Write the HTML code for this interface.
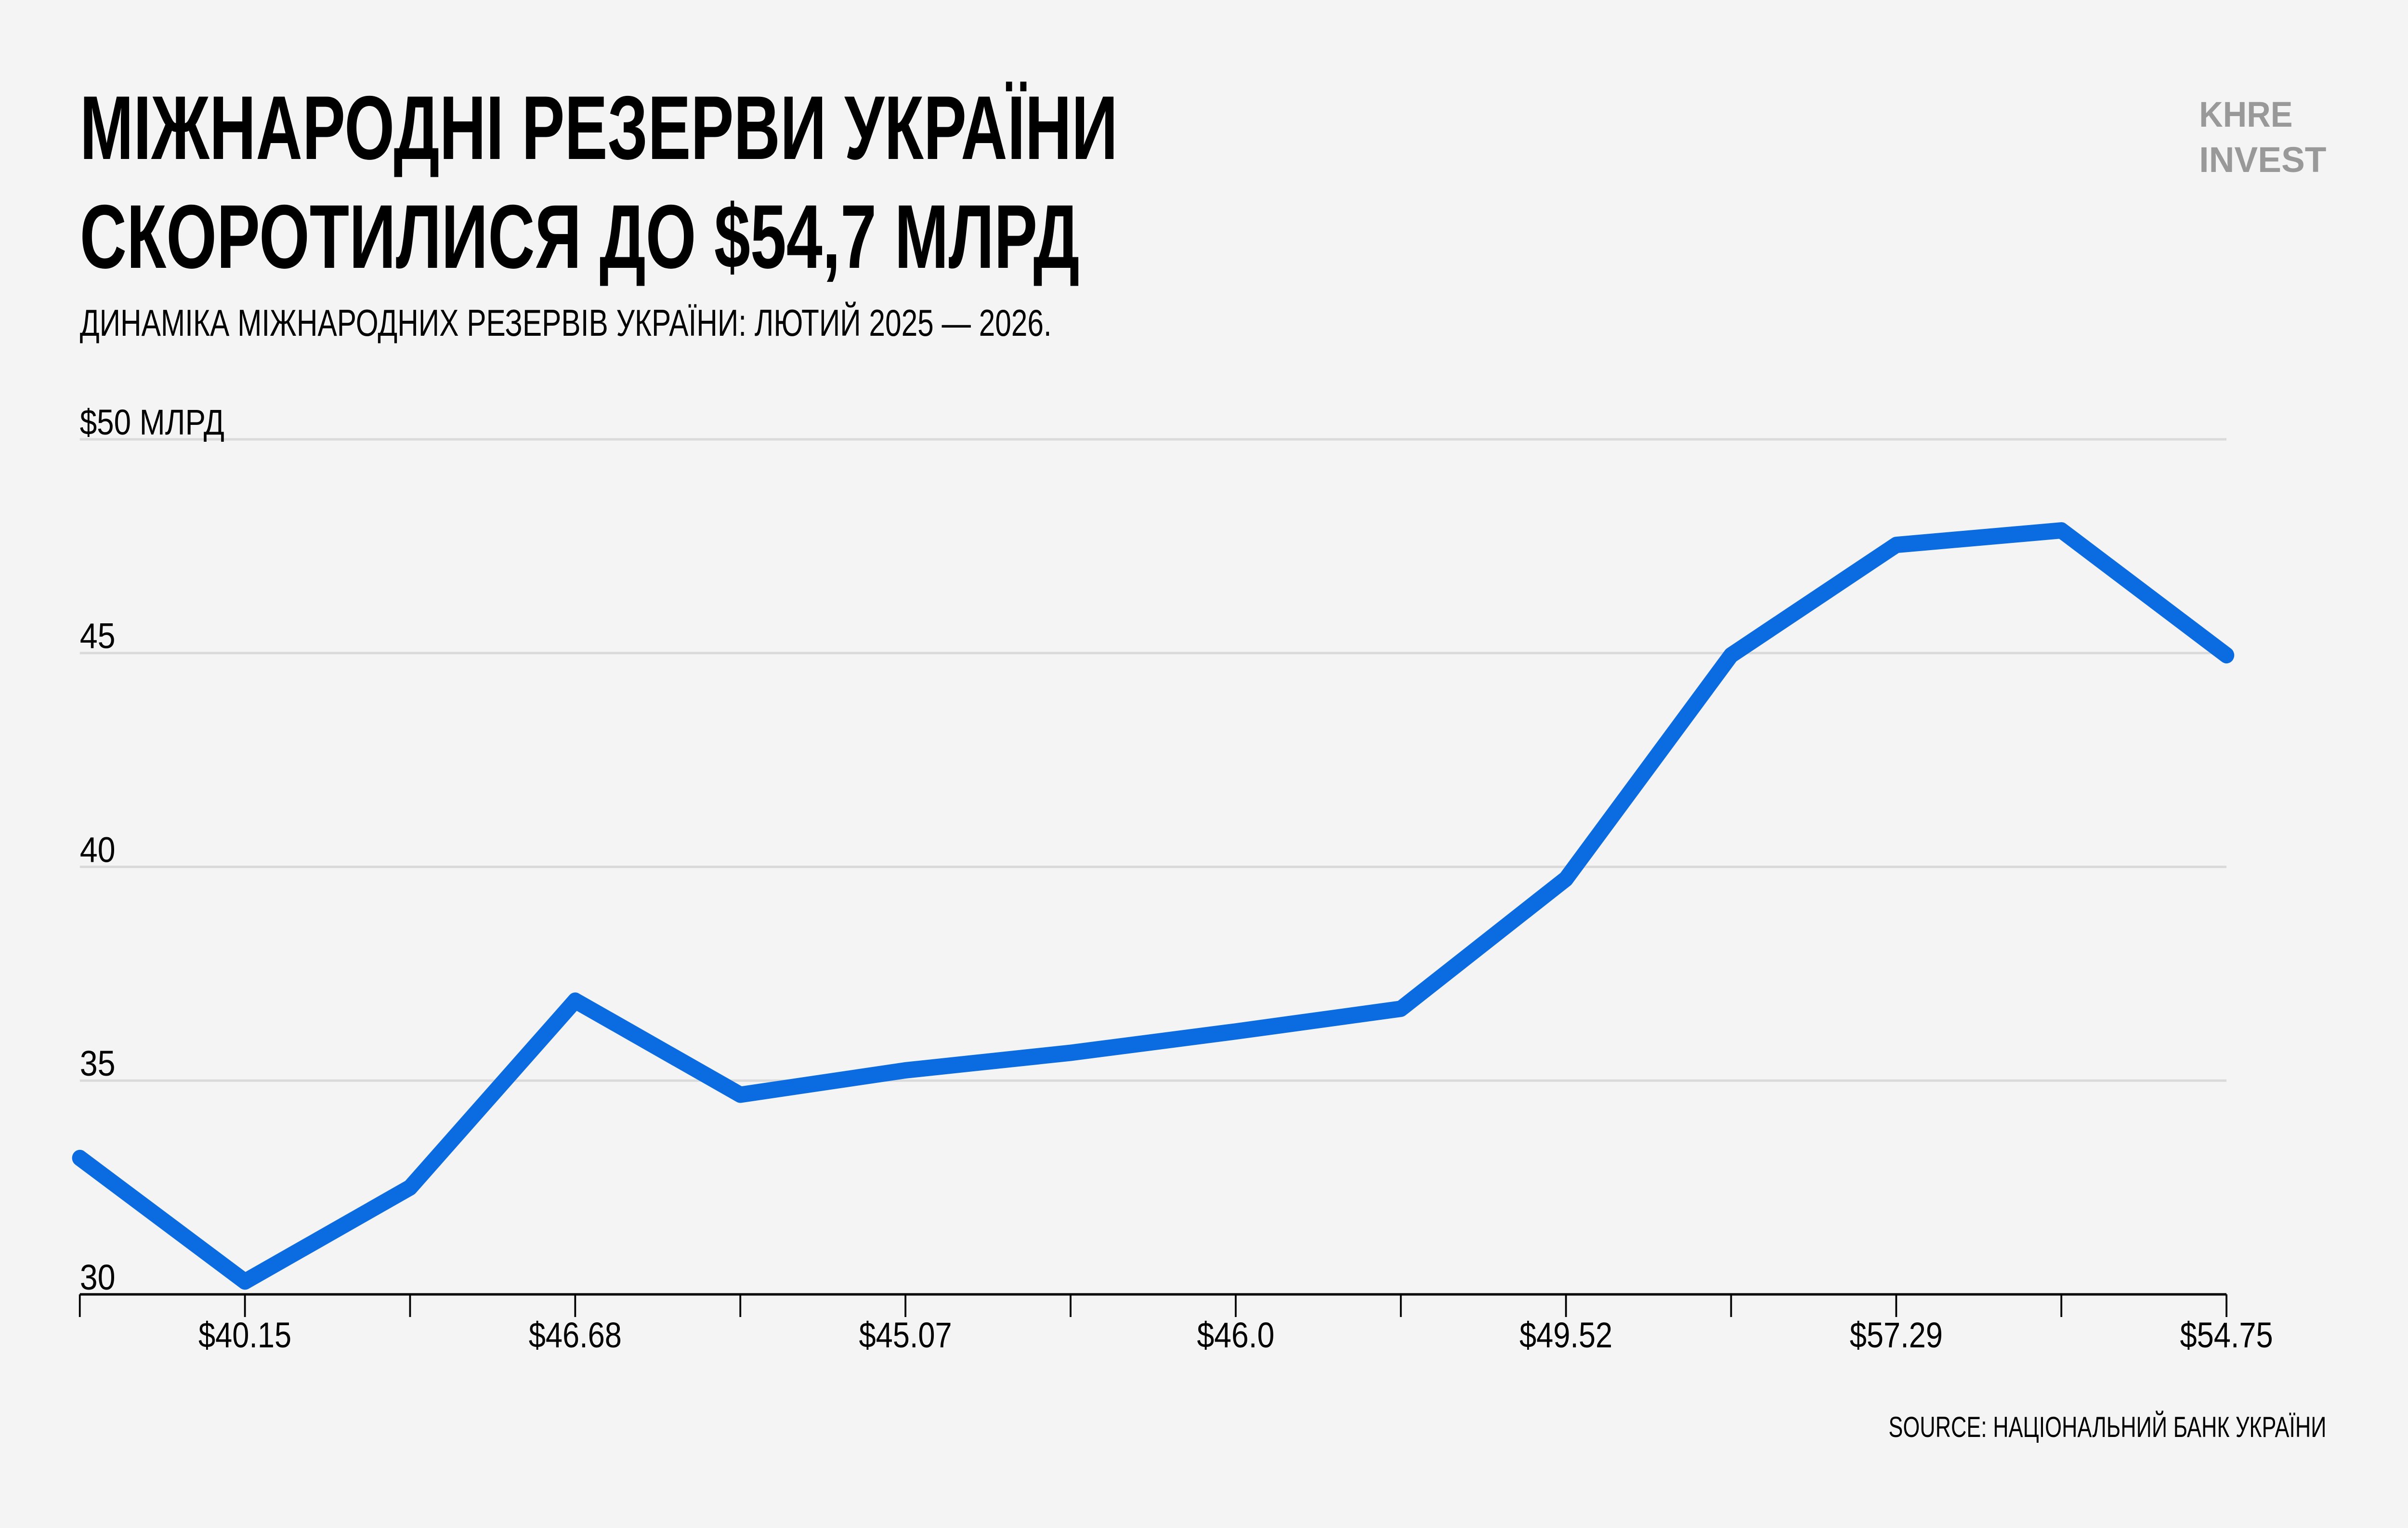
<!DOCTYPE html>
<html><head><meta charset="utf-8"><style>
html,body{margin:0;padding:0;background:#f4f4f4;overflow:hidden;width:100%;height:100%}
svg{display:block;position:absolute;left:0;top:0;width:100vw;height:100vh}
text{font-family:"Liberation Sans","Noto Sans CJK SC",sans-serif}
</style></head><body>
<svg id="chart" viewBox="0 0 5280 3172" preserveAspectRatio="none" xmlns="http://www.w3.org/2000/svg">
<rect width="5280" height="3172" fill="#f4f4f4"/>
<text x="175" y="330" font-size="188" font-weight="bold" textLength="2276" lengthAdjust="spacingAndGlyphs" fill="#000">МІЖНАРОДНІ РЕЗЕРВИ УКРАЇНИ</text>
<text x="175" y="556" font-size="188" font-weight="bold" textLength="2192" lengthAdjust="spacingAndGlyphs" fill="#000">СКОРОТИЛИСЯ ДО $54,7 МЛРД</text>
<text x="175" y="697" font-size="78" textLength="2131" lengthAdjust="spacingAndGlyphs" fill="#000">ДИНАМІКА МІЖНАРОДНИХ РЕЗЕРВІВ УКРАЇНИ: ЛЮТИЙ 2025 — 2026.</text>
<text x="4822" y="263" font-size="74" font-weight="bold" textLength="205" lengthAdjust="spacingAndGlyphs" fill="#999">KHRE</text>
<text x="4822" y="357" font-size="74" font-weight="bold" textLength="279" lengthAdjust="spacingAndGlyphs" fill="#999">INVEST</text>
<g id="grid"></g>
<g id="xaxis"></g>
<g id="series"></g>
<text x="5101" y="2983" font-size="60" text-anchor="end" textLength="960" lengthAdjust="spacingAndGlyphs" fill="#000">SOURCE: НАЦІОНАЛЬНИЙ БАНК УКРАЇНИ</text>
</svg>
<script>
const yTicks = [30, 35, 40, 45, 50];
const yTickLabels = ["30", "35", "40", "45", "$50 МЛРД"];
const values = [33.19, 30.3, 32.5, 36.87, 34.67, 35.24, 35.65, 36.15, 36.68, 39.72, 44.95, 47.53, 47.87, 44.95];
const xLabels = ["", "$40.15", "", "$46.68", "", "$45.07", "", "$46.0", "", "$49.52", "", "$57.29", "", "$54.75"];

const NS = "http://www.w3.org/2000/svg";
const X0 = 175, X1 = 4882, Y0 = 2687, Y1 = 912;
const yMin = 30, yMax = 50;
function xs(i){ return X0 + (X1 - X0) * i / (values.length - 1); }
function ys(v){ return Y0 - (v - yMin) / (yMax - yMin) * (Y0 - Y1); }
function mk(tag, attrs){ const e = document.createElementNS(NS, tag); for (const k in attrs) e.setAttribute(k, attrs[k]); return e; }

const grid = document.getElementById('grid');
yTicks.forEach((t, i) => {
  const y = ys(t);
  if (t !== yMin) {
    const l = mk('line', {x1: X0, x2: X1, y1: y, y2: y, stroke: '#dadada', 'stroke-width': 5});
    
    
    grid.appendChild(l);
  }
  const tx = mk('text', {x: X0, y: y - 10, 'font-size': 74, fill: '#000'});
  
  
  tx.textContent = yTickLabels[i];
  tx.setAttribute('textLength', i === yTicks.length - 1 ? 317 : 78);
  tx.setAttribute('lengthAdjust', 'spacingAndGlyphs');
  grid.appendChild(tx);
});

const xa = document.getElementById('xaxis');
const axis = mk('line', {x1: X0, x2: X1, y1: Y0, y2: Y0, stroke: '#000', 'stroke-width': 5});


xa.appendChild(axis);
values.forEach((v, i) => {
  const x = xs(i);
  const tk = mk('line', {x1: x, x2: x, y1: Y0, y2: Y0 + 47, stroke: '#000', 'stroke-width': 4});
  
  
  xa.appendChild(tk);
  if (xLabels[i]) {
    const t = mk('text', {x: x, y: 2797, 'font-size': 74, 'text-anchor': 'middle', fill: '#000', textLength: xLabels[i].length * 34, lengthAdjust: 'spacingAndGlyphs'});
    
    
    t.textContent = xLabels[i];
    xa.appendChild(t);
  }
});

const s = document.getElementById('series');
const pts = values.map((v, i) => xs(i) + ',' + ys(v)).join(' ');
const pl = mk('polyline', {points: pts, fill: 'none', stroke: '#0b6be0', 'stroke-width': 34, 'stroke-linejoin': 'round', 'stroke-linecap': 'round'});


s.appendChild(pl);
</script>
</body></html>
